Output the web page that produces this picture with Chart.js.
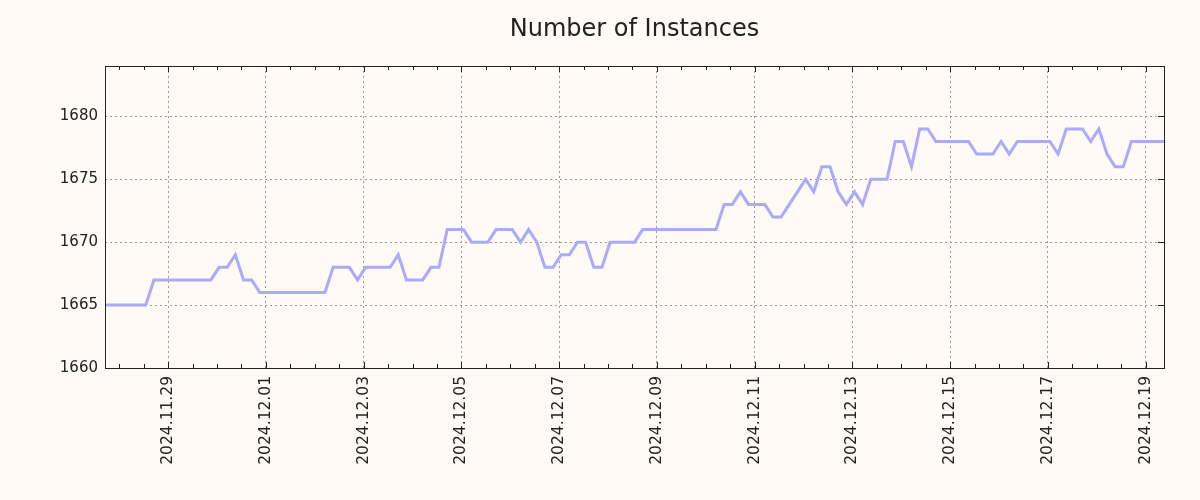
<!DOCTYPE html>
<html>
<head>
<meta charset="utf-8">
<script src="https://cdn.jsdelivr.net/npm/chart.js@4/dist/chart.umd.min.js"></script>
<style>
  html, body { margin: 0; padding: 0; background: #fffaf5; }
  #wrap { width: 1200px; height: 500px; position: relative; }
</style>
</head>
<body>
<div id="wrap"><canvas id="c" width="1200" height="500"></canvas></div>
<script>
// ---- data ----
const title = 'Number of Instances';
const startTime = '2024-11-27T17:00:00Z';   // first sample
const sampleHours = 4;                       // sampling interval
const instances = [
  1665,1665,1665,1665,1665,1665,
  1667,1667,1667,1667,1667,1667,1667,1667,
  1668,1668,1669,1667,1667,
  1666,1666,1666,1666,1666,1666,1666,1666,1666,
  1668,1668,1668,1667,1668,1668,1668,1668,1669,
  1667,1667,1667,1668,1668,
  1671,1671,1671,1670,1670,1670,1671,1671,1671,
  1670,1671,1670,1668,1668,1669,1669,1670,1670,1668,1668,
  1670,1670,1670,1670,
  1671,1671,1671,1671,1671,1671,1671,1671,1671,1671,
  1673,1673,1674,1673,1673,1673,1672,1672,1673,1674,1675,1674,
  1676,1676,1674,1673,1674,1673,1675,1675,1675,
  1678,1678,1676,1679,1679,
  1678,1678,1678,1678,1678,1677,1677,1677,1678,1677,
  1678,1678,1678,1678,1678,1677,1679,1679,1679,1678,1679,1677,1676,1676,
  1678,1678,1678,1678,1678
];
const xTickLabels = ['2024.11.29','2024.12.01','2024.12.03','2024.12.05','2024.12.07',
  '2024.12.09','2024.12.11','2024.12.13','2024.12.15','2024.12.17','2024.12.19'];
const yTicks = [1660, 1665, 1670, 1675, 1680];
const yMin = 1660, yMax = 1684;

// ---- build ----
const HOUR = 3600e3;
const t0 = Date.parse(startTime);
const points = instances.map((v, i) => ({ x: t0 + i * sampleHours * HOUR, y: v }));
function parseLabel(s) {
  const [y, m, d] = s.split('.').map(Number);
  return Date.UTC(y, m - 1, d);
}
const majorTimes = xTickLabels.map(parseLabel);
const xMin = points[0].x, xMax = points[points.length - 1].x;
const FONT = "'DejaVu Sans', sans-serif";

const titlePlugin = {
  id: 'plotTitle',
  afterDraw(chart) {
    const { ctx, chartArea: a } = chart;
    ctx.save();
    ctx.fillStyle = '#222';
    ctx.font = '24px ' + FONT;
    ctx.textAlign = 'center';
    ctx.textBaseline = 'middle';
    ctx.fillText(title, (a.left + a.right) / 2, 30);
    ctx.restore();
  }
};

const innerTicks = {
  id: 'innerTicks',
  afterDraw(chart) {
    const { ctx, chartArea: a, scales } = chart;
    ctx.save();
    ctx.strokeStyle = '#222';
    ctx.lineWidth = 1;
    ctx.beginPath();
    scales.x.ticks.forEach(t => {
      const px = Math.round(scales.x.getPixelForValue(t.value)) + 0.5;
      const len = t.major ? 6 : 4;
      ctx.moveTo(px, a.bottom); ctx.lineTo(px, a.bottom - len);
      ctx.moveTo(px, a.top); ctx.lineTo(px, a.top + len);
    });
    scales.y.ticks.forEach(t => {
      const py = Math.round(scales.y.getPixelForValue(t.value)) + 0.5;
      ctx.moveTo(a.right, py); ctx.lineTo(a.right - 6, py);
    });
    ctx.stroke();
    ctx.strokeRect(Math.round(a.left) + 0.5, Math.round(a.top) + 0.5,
      Math.round(a.right - a.left), Math.round(a.bottom - a.top));
    ctx.restore();
  }
};

const bg = {
  id: 'bg',
  beforeDraw(chart) {
    const { ctx } = chart;
    ctx.save(); ctx.fillStyle = '#fffaf5';
    ctx.fillRect(0, 0, chart.width, chart.height); ctx.restore();
  }
};

new Chart(document.getElementById('c'), {
  type: 'line',
  data: {
    datasets: [{
      data: points,
      borderColor: '#aaaaff',
      borderWidth: 3,
      pointRadius: 0,
      tension: 0,
      fill: false
    }]
  },
  options: {
    responsive: false,
    animation: false,
    devicePixelRatio: 1,
    layout: { padding: { left: 0, right: 36, top: 66, bottom: 0 } },
    plugins: {
      legend: { display: false },
      tooltip: { enabled: false },
      title: { display: false }
    },
    scales: {
      x: {
        type: 'linear',
        min: xMin,
        max: xMax,
        afterBuildTicks(scale) {
          const ticks = [];
          const first = Math.ceil((xMin - majorTimes[0]) / (12 * HOUR)) * 12 * HOUR + majorTimes[0];
          for (let t = first; t <= xMax; t += 12 * HOUR) {
            ticks.push({ value: t, major: majorTimes.includes(t) });
          }
          scale.ticks = ticks;
        },
        afterFit(scale) { scale.height = 132; },
        ticks: {
          autoSkip: false,
          maxRotation: 90,
          minRotation: 90,
          padding: 8,
          color: '#222',
          font: { family: FONT, size: 15.5 },
          callback(v) {
            const i = majorTimes.indexOf(v);
            return i >= 0 ? xTickLabels[i] : '';
          }
        },
        grid: {
          drawTicks: false,
          color: ctx => (ctx.tick && ctx.tick.major) ? '#999' : 'rgba(0,0,0,0)',
          lineWidth: 1
        },
        border: { display: false, dash: [2, 3] }
      },
      y: {
        type: 'linear',
        min: yMin,
        max: yMax,
        afterBuildTicks(scale) { scale.ticks = yTicks.map(v => ({ value: v })); },
        afterFit(scale) { scale.width = 105; },
        ticks: {
          includeBounds: false,
          padding: 7,
          color: '#222',
          font: { family: FONT, size: 15 },
          callback: v => String(v)
        },
        grid: { drawTicks: false, color: '#999', lineWidth: 1 },
        border: { display: false, dash: [2, 3] }
      }
    }
  },
  plugins: [bg, titlePlugin, innerTicks]
});
</script>
</body>
</html>
